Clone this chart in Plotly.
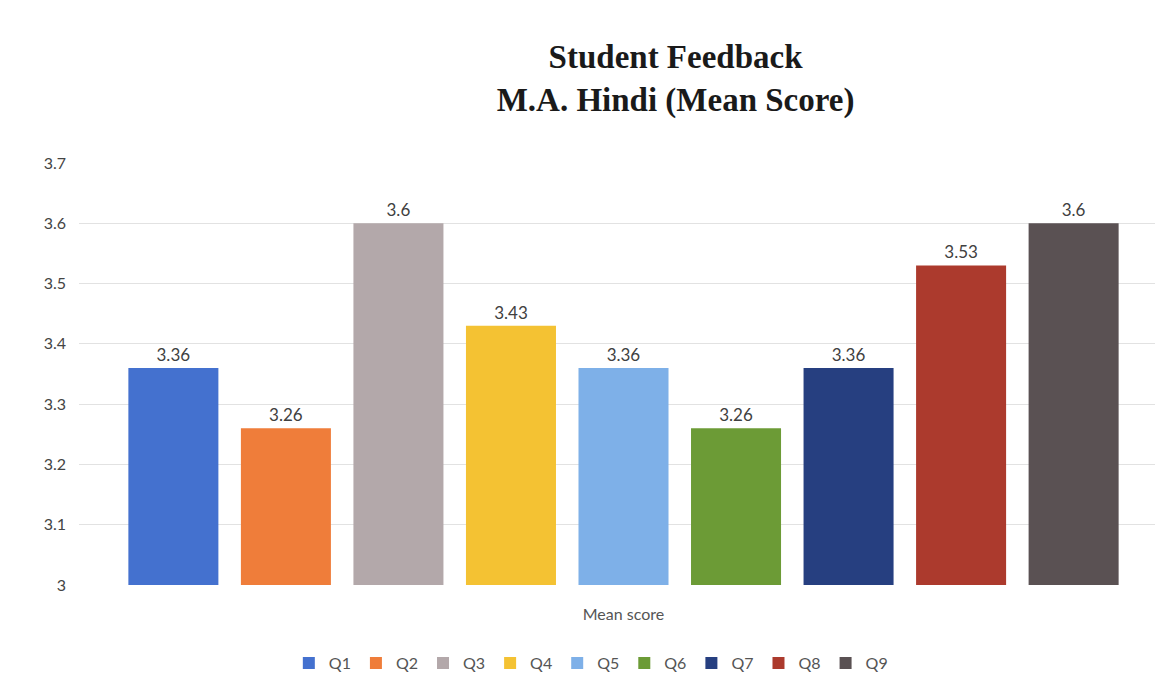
import plotly.graph_objects as go

categories = ["Mean score"]
series_names = ["Q1", "Q2", "Q3", "Q4", "Q5", "Q6", "Q7", "Q8", "Q9"]
values = [3.36, 3.26, 3.6, 3.43, 3.36, 3.26, 3.36, 3.53, 3.6]
colors = ["#4471cf", "#ef7d3a", "#b3a8aa", "#f4c233", "#7eb0e8", "#6c9b36", "#263f80", "#ac3a2d", "#5a5153"]
y_ticks = [3.0, 3.1, 3.2, 3.3, 3.4, 3.5, 3.6, 3.7]
y_tick_labels = ["3", "3.1", "3.2", "3.3", "3.4", "3.5", "3.6", "3.7"]

fig = go.Figure()
for name, v, c in zip(series_names, values, colors):
    fig.add_trace(go.Bar(
        name=name, x=categories, y=[v],
        marker=dict(color=c, line=dict(width=0)),
        text=[f"{v:g}"], textposition="outside", cliponaxis=False,
        textfont=dict(family="Lato, Open Sans, sans-serif", size=17, color="#404040"),
    ))

fig.update_layout(
    width=1163, height=686,
    paper_bgcolor="white", plot_bgcolor="white",
    margin=dict(l=71, r=3, t=155, b=109),
    barmode="group", bargap=0.07, bargroupgap=0.2,
    title=dict(
        text="<b>Student Feedback</b><br><b>M.A. Hindi (Mean Score)</b>",
        x=0.574, xanchor="center", y=0.912, yanchor="top",
        font=dict(family="Liberation Serif, DejaVu Serif, serif", size=33, color="#1a1a1a"),
    ),
    yaxis=dict(
        range=[3.0, 3.7], tickvals=y_ticks, ticktext=y_tick_labels,
        showgrid=True, gridcolor="#e2e2e2", gridwidth=1, zeroline=False,
        tickfont=dict(family="Lato, Open Sans, sans-serif", size=16, color="#444444"),
        ticklabelstandoff=12,
    ),
    xaxis=dict(
        showgrid=False, showline=False, ticks="",
        tickfont=dict(family="Lato, Open Sans, sans-serif", size=16, color="#555555"),
        ticklabelstandoff=18,
    ),
    legend=dict(
        orientation="h", x=0.47, xanchor="center", y=-0.185, yanchor="middle",
        font=dict(family="Lato, Open Sans, sans-serif", size=16, color="#555555"),
        itemwidth=30,
    ),
    showlegend=True,
)

fig.write_html("out.html")
